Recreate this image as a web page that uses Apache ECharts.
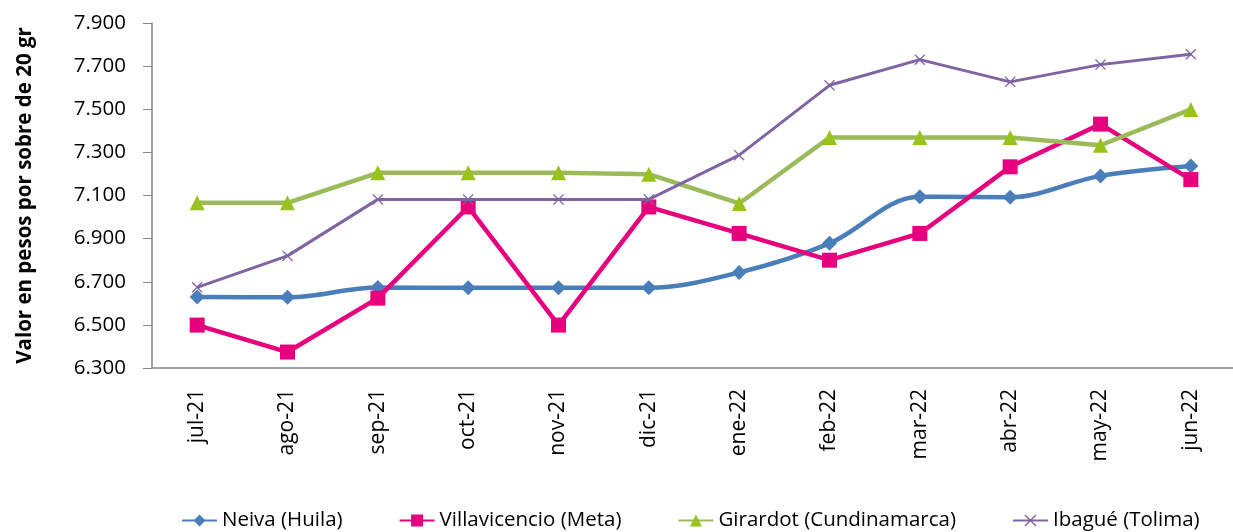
<!DOCTYPE html>
<html>
<head>
<meta charset="utf-8">
<script src="https://cdn.jsdelivr.net/npm/echarts@6/dist/echarts.min.js"></script>
<style>
  html, body { margin: 0; padding: 0; background: #fff; }
  #chart { width: 1233px; height: 532px; }
</style>
</head>
<body>
<div id="chart"></div>
<script>
// Meses del periodo
const months = ['jul-21', 'ago-21', 'sep-21', 'oct-21', 'nov-21', 'dic-21',
                'ene-22', 'feb-22', 'mar-22', 'abr-22', 'may-22', 'jun-22'];

// Precio promedio por sobre de 20 gr en cada ciudad
const neiva         = [6629, 6628, 6673, 6672, 6672, 6672, 6743, 6878, 7094, 7092, 7191, 7237];
const villavicencio = [6499, 6374, 6624, 7047, 6499, 7047, 6924, 6800, 6924, 7233, 7431, 7174];
const girardot      = [7066, 7066, 7205, 7205, 7205, 7199, 7063, 7369, 7369, 7369, 7333, 7499];
const ibague        = [6674, 6820, 7082, 7082, 7082, 7082, 7287, 7611, 7730, 7627, 7707, 7755];

const seriesNames = ['Neiva (Huila)', 'Villavicencio (Meta)', 'Girardot (Cundinamarca)', 'Ibagué (Tolima)'];

const yTicks = { min: 6300, max: 7900, step: 200 };

const FONT = '"Open Sans", "Noto Sans", sans-serif';
const crossPath = 'path://M0,1 L1,0 L6,5 L11,0 L12,1 L7,6 L12,11 L11,12 L6,7 L1,12 L0,11 L5,6 Z';

const fmt = v => {
  const s = String(Math.round(v));
  return s.replace(/\B(?=(\d{3})+(?!\d))/g, '.');
};

const chart = echarts.init(document.getElementById('chart'), null, { renderer: 'canvas' });

chart.setOption({
  animation: false,
  backgroundColor: '#ffffff',
  grid: { left: 152, top: 23, width: 1084, height: 345, containLabel: false, outerBoundsMode: 'none' },
  legend: {
    top: 505,
    left: 176,
    itemGap: 56,
    itemWidth: 35,
    itemHeight: 15,
    textStyle: { fontFamily: FONT, fontSize: 20.5, color: '#000' },
    data: seriesNames
  },
  xAxis: {
    type: 'category',
    data: months,
    boundaryGap: true,
    axisLine: { lineStyle: { color: '#868686', width: 1.5 } },
    axisTick: { show: false },
    axisLabel: { rotate: 90, margin: 21, fontFamily: FONT, fontSize: 21, color: '#000', interval: 0 },
    splitLine: { show: false }
  },
  yAxis: {
    type: 'value',
    min: yTicks.min,
    max: yTicks.max,
    interval: yTicks.step,
    name: 'Valor en pesos por sobre de 20 gr',
    nameLocation: 'middle',
    nameGap: 116,
    nameRotate: 90,
    nameTextStyle: { fontFamily: FONT, fontSize: 20.5, fontWeight: 'bold', color: '#000' },
    axisLine: { show: true, lineStyle: { color: '#868686', width: 1.5 } },
    axisTick: { show: true, inside: false, length: 9, lineStyle: { color: '#868686' } },
    axisLabel: { margin: 26, fontFamily: FONT, fontSize: 20.5, color: '#000', formatter: fmt },
    splitLine: { show: false }
  },
  series: [
    {
      name: seriesNames[0],
      type: 'line',
      data: neiva,
      smooth: 0.35,
      symbol: 'diamond',
      symbolSize: 15,
      lineStyle: { color: '#4a7ebb', width: 4.5 },
      itemStyle: { color: '#4a7ebb' },
      z: 2
    },
    {
      name: seriesNames[1],
      type: 'line',
      data: villavicencio,
      symbol: 'rect',
      symbolSize: 15,
      lineStyle: { color: '#e6007e', width: 4.5 },
      itemStyle: { color: '#e6007e' },
      z: 3
    },
    {
      name: seriesNames[2],
      type: 'line',
      data: girardot,
      symbol: 'triangle',
      symbolSize: 15,
      lineStyle: { color: '#9bbb59', width: 4.5 },
      itemStyle: { color: '#99c21c' },
      z: 4
    },
    {
      name: seriesNames[3],
      type: 'line',
      data: ibague,
      symbol: crossPath,
      symbolSize: 11,
      lineStyle: { color: '#8064a2', width: 3 },
      itemStyle: { color: '#8064a2' },
      z: 5
    }
  ]
});
</script>
</body>
</html>
